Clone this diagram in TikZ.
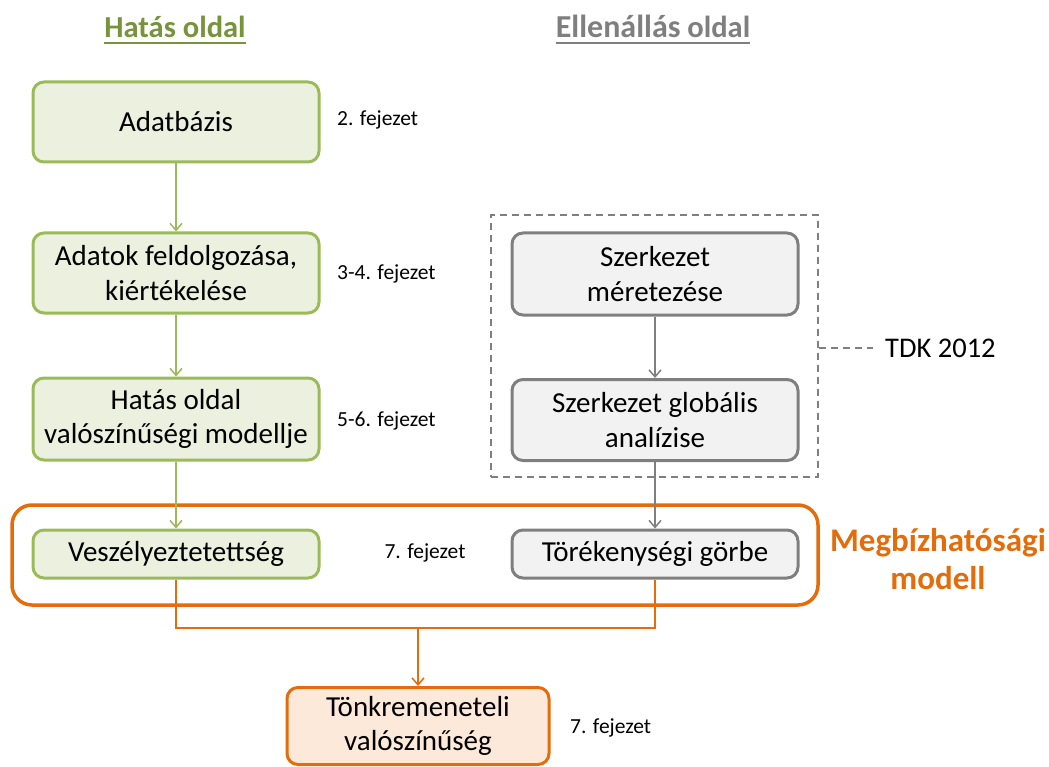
\documentclass[tikz,border=0pt]{standalone}
\usepackage{fontspec}
\setmainfont{Carlito}
\usetikzlibrary{arrows.meta,positioning}
\definecolor{grnB}{HTML}{9BBB59}
\definecolor{grnF}{HTML}{EBF1DE}
\definecolor{grnT}{HTML}{77933C}
\definecolor{gryB}{HTML}{7F7F7F}
\definecolor{gryF}{HTML}{F2F2F2}
\definecolor{orgB}{HTML}{E46C0A}
\definecolor{orgF}{HTML}{FDE9D9}
\tikzset{
  box/.style={rectangle, rounded corners=11pt, line width=3pt, minimum width=286pt, align=center, inner sep=2pt, font=\fontsize{29}{34.5}\selectfont},
  gbox/.style={box, draw=grnB, fill=grnF},
  ybox/.style={box, draw=gryB, fill=gryF},
  obox/.style={box, draw=orgB, fill=orgF, minimum width=262pt},
  note/.style={font=\fontsize{21.5}{25}\selectfont, anchor=west, inner sep=0pt},
  garr/.style={draw=grnB, line width=1.5pt, -{Straight Barb[length=7pt,width=12pt,line width=1.5pt]}},
  yarr/.style={draw=gryB, line width=1.5pt, -{Straight Barb[length=7pt,width=12pt,line width=1.5pt]}},
  oarr/.style={draw=orgB, line width=1.5pt, -{Straight Barb[length=7pt,width=12pt,line width=1.5pt]}},
  oline/.style={draw=orgB, line width=1.5pt},
  head/.style={font=\bfseries\fontsize{30.5}{34}\selectfont, inner sep=0pt, anchor=base},
}
\begin{document}
\begin{tikzpicture}[x=1pt,y=-1pt]
\useasboundingbox (0,0) rectangle (1049,767);
% headings
\node[head, text=grnT] (h1) at (175,38) {Hatás oldal};
\draw[grnT, line width=2.5pt] ([yshift=-5pt]h1.base west) -- ([yshift=-5pt]h1.base east);
\node[head, text=gryB] (h2) at (653,38) {{\fontsize{32}{34}\selectfont Ellenállás} oldal};
\draw[gryB, line width=2.5pt] ([yshift=-5pt]h2.base west) -- ([yshift=-5pt]h2.base east);
% orange model frame
\node[draw=orgB, line width=3.5pt, rounded corners=20pt, minimum width=806pt, minimum height=100pt, inner sep=0pt] (model) at (415,555) {};
\node[font=\bfseries\fontsize{33}{38}\selectfont, text=orgB, align=center] (mlab) at (938,559) {Megbízhatósági\\modell};
% dashed TDK frame
\node[draw=gryB, dashed, line width=1.5pt, dash pattern=on 7pt off 5pt, minimum width=327pt, minimum height=262pt, inner sep=0pt] (tdk) at (654.5,346) {};
\node[font=\fontsize{28.5}{32}\selectfont, anchor=west, inner sep=0pt] (tdkl) at (885,348) {TDK 2012};
\draw[gryB, line width=1.5pt, dash pattern=on 7pt off 5pt] (tdk.east |- tdkl.west) -- ([xshift=-12pt]tdkl.west);
% left column
\node[gbox, minimum height=80pt] (a1) at (176,122) {Adatbázis};
\node[gbox, minimum height=80pt] (a2) at (176,273) {Adatok feldolgozása,\\kiértékelése};
\node[gbox, minimum height=82pt] (a3) at (176,419) {Hatás oldal\\valószínűségi modellje};
\node[gbox, minimum height=48pt] (a4) at (176,554) {Veszélyeztetettség};
% right column
\node[ybox, minimum height=82pt] (b1) at (655,274) {Szerkezet\\méretezése};
\node[ybox, minimum height=81pt] (b2) at (655,420) {Szerkezet globális\\analízise};
\node[ybox, minimum height=48pt] (b3) at (655,554) {Törékenységi görbe};
% result
\node[obox, minimum height=77pt] (c1) at (418,726) {Tönkremeneteli\\valószínűség};
% notes
\node[note] (n1) at (337,120) {2. fejezet};
\node[note] (n2) at (337,274) {3-4. fejezet};
\node[note] (n3) at (337,421) {5-6. fejezet};
\node[note, anchor=center] (n4) at (425,553) {7. fejezet};
\node[note] (n5) at (570,728) {7. fejezet};
% connectors
\draw[garr] (a1) -- (a2);
\draw[garr] (a2) -- (a3);
\draw[garr] (a3) -- (a4);
\draw[yarr] (b1) -- (b2);
\draw[yarr] (b2) -- (b3);
\coordinate (j) at (418,628);
\draw[oline] (a4.south) |- (j) -| (b3.south);
\draw[oarr] (j) -- (c1.north);
\end{tikzpicture}
\end{document}
